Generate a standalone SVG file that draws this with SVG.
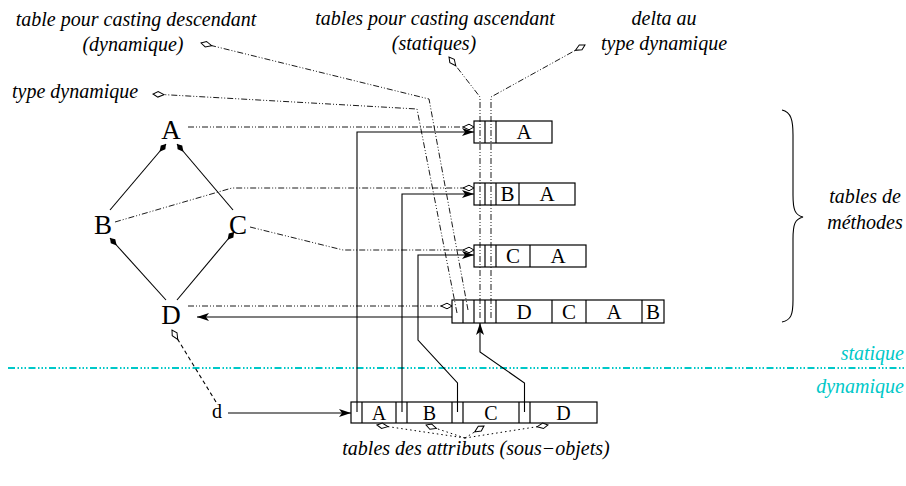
<svg xmlns="http://www.w3.org/2000/svg" width="906" height="486" viewBox="0 0 906 486">
<defs>
<style>
.lbl{font-family:"Liberation Serif","Times New Roman",serif;font-style:italic;font-size:20px;fill:#000}
.cy{fill:#00c8c8}
.node{font-family:"Liberation Serif","Times New Roman",serif;font-size:27px;fill:#000;text-anchor:middle}
.cell{font-family:"Liberation Serif","Times New Roman",serif;font-size:21px;fill:#000;text-anchor:middle}
.acell{font-family:"Liberation Serif","Times New Roman",serif;font-size:20px;fill:#000;text-anchor:middle}
.box{fill:none;stroke:#000;stroke-width:1.2}
.solid{fill:none;stroke:#000;stroke-width:1.1}
.dd{fill:none;stroke:#000;stroke-width:0.9;stroke-dasharray:6 2 1 2 1 2}
.dot{fill:none;stroke:#000;stroke-width:1;stroke-dasharray:1.5 3}
.dash{fill:none;stroke:#000;stroke-width:1.1;stroke-dasharray:4 3}
</style>
<marker id="od" markerUnits="userSpaceOnUse" viewBox="-13 -5 14 10" refX="0" refY="0" markerWidth="14" markerHeight="10" orient="auto">
<path d="M0,0 L-5,-2.8 L-11,0 L-5,2.8 Z" fill="#fff" stroke="#000" stroke-width="1"/>
</marker>
<marker id="fa" markerUnits="userSpaceOnUse" viewBox="-13 -5 14 10" refX="0" refY="0" markerWidth="14" markerHeight="10" orient="auto">
<path d="M0,0 L-12,-4 L-9,0 L-12,4 Z" fill="#000"/>
</marker>
<marker id="fd" markerUnits="userSpaceOnUse" viewBox="-12 -5 13 10" refX="0" refY="0" markerWidth="13" markerHeight="10" orient="auto">
<path d="M0,0 L-4.5,-3 L-10,0 L-4.5,3 Z" fill="#000"/>
</marker>
</defs>
<rect width="906" height="486" fill="#fff"/>

<g id="labels">
<text class="lbl" x="136" y="26" text-anchor="middle">table pour casting descendant</text>
<text class="lbl" x="133" y="51" text-anchor="middle">(dynamique)</text>
<text class="lbl" x="435" y="25" text-anchor="middle">tables pour casting ascendant</text>
<text class="lbl" x="434" y="50" text-anchor="middle">(statiques)</text>
<text class="lbl" x="664" y="25" text-anchor="middle">delta au</text>
<text class="lbl" x="664" y="50" text-anchor="middle">type dynamique</text>
<text class="lbl" x="12" y="98">type dynamique</text>
<text class="lbl" x="865" y="203" text-anchor="middle">tables de</text>
<text class="lbl" x="865" y="229" text-anchor="middle">méthodes</text>
<text class="lbl cy" x="904" y="360" text-anchor="end">statique</text>
<text class="lbl cy" x="904" y="393" text-anchor="end">dynamique</text>
<text class="lbl" x="476" y="455" text-anchor="middle">tables des attributs (sous−objets)</text>
</g>

<g id="separator">
<line x1="8" y1="368" x2="906" y2="368" stroke="#00c8c8" stroke-width="2" stroke-dasharray="7 2.5 1.5 2 1.5 2 1.5 2.5"/>
</g>

<g id="brace">
<path d="M782,110 C791,112 793,120 793,135 L793,195 C793,210 795,215 803,217 C795,219 793,224 793,239 L793,300 C793,315 791,320 782,322" fill="none" stroke="#000" stroke-width="1.1"/>
</g>

<g id="node-A"><text class="node" x="171" y="139">A</text></g>
<g id="node-B"><text class="node" x="103" y="234">B</text></g>
<g id="node-C"><text class="node" x="238" y="234">C</text></g>
<g id="node-D"><text class="node" x="171" y="324">D</text></g>
<g id="node-d"><text class="acell" x="217" y="418">d</text></g>

<g id="table-A">
<rect class="box" x="474" y="121" width="78" height="22"/>
<line class="box" x1="485" y1="121" x2="485" y2="143"/>
<line class="box" x1="496" y1="121" x2="496" y2="143"/>
<text class="cell" x="524" y="139">A</text>
</g>
<g id="table-B">
<rect class="box" x="474" y="183" width="101" height="22"/>
<line class="box" x1="485" y1="183" x2="485" y2="205"/>
<line class="box" x1="496" y1="183" x2="496" y2="205"/>
<line class="box" x1="519" y1="183" x2="519" y2="205"/>
<text class="cell" x="507.5" y="201">B</text>
<text class="cell" x="547" y="201">A</text>
</g>
<g id="table-C">
<rect class="box" x="474" y="245" width="112" height="22"/>
<line class="box" x1="485" y1="245" x2="485" y2="267"/>
<line class="box" x1="496" y1="245" x2="496" y2="267"/>
<line class="box" x1="530" y1="245" x2="530" y2="267"/>
<text class="cell" x="513" y="263">C</text>
<text class="cell" x="558" y="263">A</text>
</g>
<g id="table-D">
<rect class="box" x="452" y="300" width="212" height="23"/>
<line class="box" x1="463" y1="300" x2="463" y2="323"/>
<line class="box" x1="474" y1="300" x2="474" y2="323"/>
<line class="box" x1="485" y1="300" x2="485" y2="323"/>
<line class="box" x1="496" y1="300" x2="496" y2="323"/>
<line class="box" x1="552" y1="300" x2="552" y2="323"/>
<line class="box" x1="586" y1="300" x2="586" y2="323"/>
<line class="box" x1="642" y1="300" x2="642" y2="323"/>
<text class="cell" x="524" y="319">D</text>
<text class="cell" x="569" y="319">C</text>
<text class="cell" x="614" y="319">A</text>
<text class="cell" x="653" y="319">B</text>
</g>
<g id="table-attributs">
<rect class="box" x="351" y="402" width="246" height="21"/>
<line class="box" x1="362" y1="402" x2="362" y2="423"/>
<line class="box" x1="396" y1="402" x2="396" y2="423"/>
<line class="box" x1="407" y1="402" x2="407" y2="423"/>
<line class="box" x1="452" y1="402" x2="452" y2="423"/>
<line class="box" x1="463" y1="402" x2="463" y2="423"/>
<line class="box" x1="519" y1="402" x2="519" y2="423"/>
<line class="box" x1="530" y1="402" x2="530" y2="423"/>
<text class="acell" x="379" y="420">A</text>
<text class="acell" x="429.5" y="420">B</text>
<text class="acell" x="491" y="420">C</text>
<text class="acell" x="563.5" y="420">D</text>
</g>

<g id="connectors">
<line class="solid" x1="110" y1="210" x2="166" y2="144" marker-end="url(#fd)"/>
<line class="solid" x1="233" y1="210" x2="177" y2="144" marker-end="url(#fd)"/>
<line class="solid" x1="166" y1="300" x2="110" y2="238" marker-end="url(#fd)"/>
<line class="solid" x1="177" y1="300" x2="234" y2="232" marker-end="url(#fd)"/>
<polyline class="dd" points="188,127 474,127" marker-end="url(#od)"/>
<polyline class="dd" points="115,222 232,188 474,188" marker-end="url(#od)"/>
<polyline class="dd" points="250,227 343,250 474,250" marker-end="url(#od)"/>
<polyline class="dd" points="188,306 452,306" marker-end="url(#od)"/>
<polyline class="dd" points="457,313 417,109 153,94" marker-end="url(#od)"/>
<polyline class="dd" points="468,310 429,99 201,43" marker-end="url(#od)"/>
<polyline class="dd" points="480,318 480,97 449,57" marker-end="url(#od)"/>
<polyline class="dd" points="491,318 491,97 585,45" marker-end="url(#od)"/>
<polyline class="solid" points="357,412 357,132 474,132" marker-end="url(#fa)"/>
<polyline class="solid" points="402,412 402,194 474,194" marker-end="url(#fa)"/>
<polyline class="solid" points="457.5,412 457.5,383 418,340 418,255 474,255" marker-end="url(#fa)"/>
<polyline class="solid" points="524.5,412 524.5,383 480,352 480,323" marker-end="url(#fa)"/>
<line class="solid" x1="452" y1="317" x2="197" y2="317" marker-end="url(#fa)"/>
<line class="solid" x1="228" y1="413" x2="351" y2="413" marker-end="url(#fa)"/>
<line class="dash" x1="216" y1="402" x2="172" y2="330" marker-end="url(#od)"/>
<line class="dot" x1="465" y1="438" x2="377" y2="425" marker-end="url(#od)"/>
<line class="dot" x1="465" y1="438" x2="426" y2="425" marker-end="url(#od)"/>
<line class="dot" x1="465" y1="438" x2="484" y2="426" marker-end="url(#od)"/>
<line class="dot" x1="465" y1="438" x2="548" y2="425" marker-end="url(#od)"/>
</g>
</svg>
